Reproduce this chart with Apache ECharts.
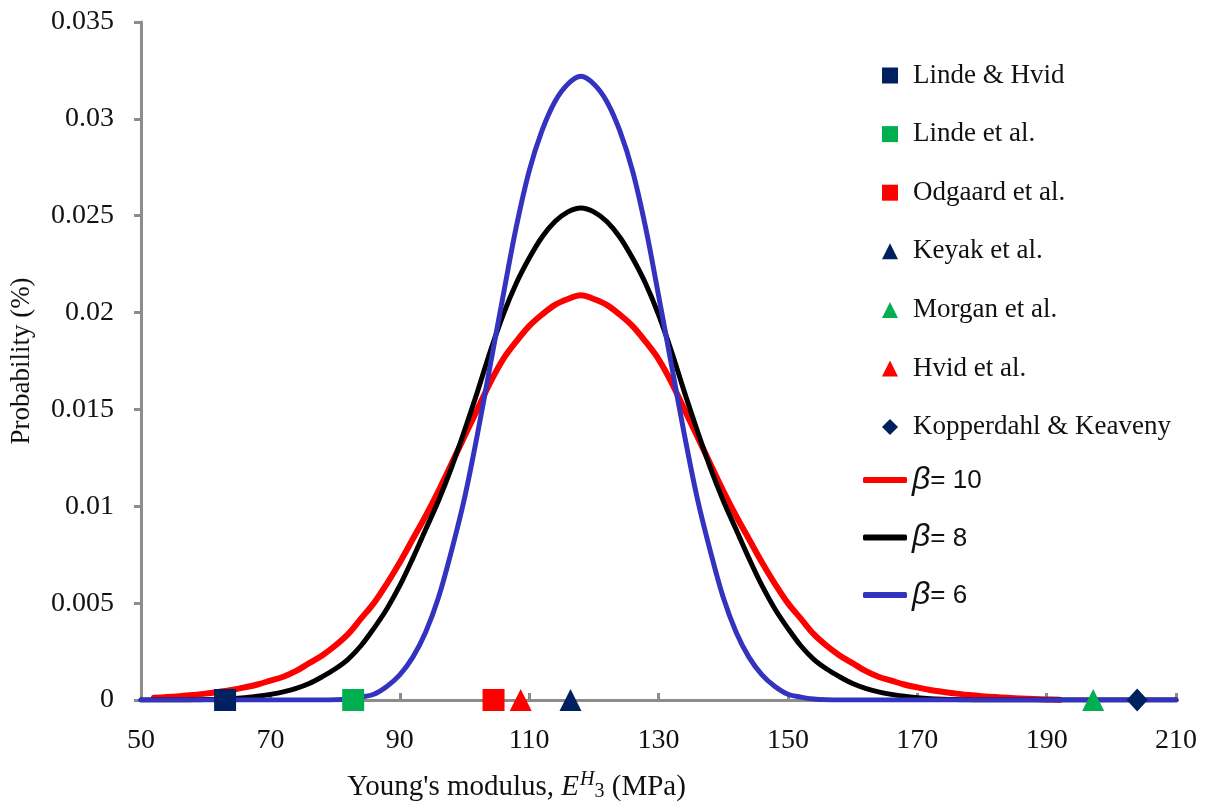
<!DOCTYPE html>
<html>
<head>
<meta charset="utf-8">
<script src="https://cdn.jsdelivr.net/npm/echarts@6/dist/echarts.min.js"></script>
<style>
  html, body { margin: 0; padding: 0; background: #ffffff; }
  #chart { width: 1205px; height: 807px; }
</style>
</head>
<body>
<div id="chart"></div>
<script>
// Young's modulus grid (MPa) shared by the three probability curves
const modulus = [
  50, 52, 54, 56, 58, 60, 62, 64, 66, 68, 70, 72, 74, 76, 78, 80, 82, 84, 86, 88,
  90, 92, 94, 96, 98, 100, 102, 104, 106, 108, 110, 112, 114, 116, 118, 120, 122, 124, 126, 128,
  130, 132, 134, 136, 138, 140, 142, 144, 146, 148, 150, 152, 154, 156, 158, 160, 162, 164, 166, 168,
  170, 172, 174, 176, 178, 180, 182, 184, 186, 188, 190, 192, 194, 196, 198, 200, 202, 204, 206, 208,
  210
];

// beta = 10
const probBeta10 = [
  null, 0.00011, 0.00015, 0.0002, 0.00026, 0.00033, 0.00042, 0.00052, 0.00065, 0.0008,
  0.0010, 0.0012, 0.0015, 0.0019, 0.0023, 0.0028, 0.0034, 0.0042, 0.0050, 0.0060,
  0.0071, 0.0083, 0.0095, 0.0108, 0.0122, 0.0136, 0.0150, 0.0164, 0.0176, 0.0185,
  0.0193, 0.0199, 0.0204, 0.0207, 0.0209, 0.0207, 0.0204, 0.0199, 0.0193, 0.0185,
  0.0176, 0.0164, 0.0150, 0.0136, 0.0122, 0.0108, 0.0095, 0.0083, 0.0071, 0.0060,
  0.0050, 0.0042, 0.0034, 0.0028, 0.0023, 0.0019, 0.0015, 0.0012, 0.0010, 0.0008,
  0.00065, 0.00052, 0.00042, 0.00033, 0.00026, 0.0002, 0.00015, 0.00011, 0.00008, 0.00005,
  0.00003, 0.00001, null, null, null, null, null, null, null, null,
  null
];

// beta = 8
const probBeta8 = [
  0, 0, 0, 0, 0.00001, 0.00002, 0.00004, 0.00007, 0.00012, 0.00019,
  0.00029, 0.00042, 0.0006, 0.00085, 0.0012, 0.0016, 0.0021, 0.0028, 0.0037, 0.0047,
  0.0059, 0.0073, 0.0088, 0.0103, 0.0120, 0.0139, 0.0159, 0.0180, 0.0199, 0.0215,
  0.0228, 0.0239, 0.0247, 0.0252, 0.0254, 0.0252, 0.0247, 0.0239, 0.0228, 0.0215,
  0.0199, 0.0180, 0.0159, 0.0139, 0.0120, 0.0103, 0.0088, 0.0073, 0.0059, 0.0047,
  0.0037, 0.0028, 0.0021, 0.0016, 0.0012, 0.00085, 0.0006, 0.00042, 0.00029, 0.00019,
  0.00012, 0.00007, 0.00004, 0.00002, 0.00001, 0, 0, 0, 0, 0,
  0, 0, 0, 0, 0, 0, 0, 0, 0, 0,
  0
];

// beta = 6
const probBeta6 = [
  0, 0, 0, 0, 0, 0, 0, 0, 0, 0,
  0, 0, 0, 0, 0, 0.00001, 0.00005, 0.00015, 0.0003, 0.0007,
  0.0013, 0.0022, 0.0035, 0.0053, 0.0077, 0.0104, 0.0137, 0.0173, 0.0209, 0.0244,
  0.0273, 0.0294, 0.0309, 0.0318, 0.0322, 0.0318, 0.0309, 0.0294, 0.0273, 0.0244,
  0.0209, 0.0173, 0.0137, 0.0104, 0.0077, 0.0053, 0.0035, 0.0022, 0.0013, 0.0007,
  0.0003, 0.00015, 0.00005, 0.00001, 0, 0, 0, 0, 0, 0,
  0, 0, 0, 0, 0, 0, 0, 0, 0, 0,
  0, 0, 0, 0, 0, 0, 0, 0, 0, 0,
  0
];

// Experimental moduli reported in the literature (MPa)
const studyNames   = ['Linde & Hvid', 'Linde et al.', 'Odgaard et al.', 'Keyak et al.', 'Morgan et al.', 'Hvid et al.', 'Kopperdahl & Keaveny'];
const studyModulus = [63, 82.8, 104.5, 116.4, 197.2, 108.7, 204];
const studySymbols = ['rect', 'rect', 'rect', 'triangle', 'triangle', 'triangle', 'diamond'];
const studyColors  = ['#002060', '#00B050', '#FF0000', '#002060', '#00B050', '#FF0000', '#002060'];

const curveNames  = ['β10', 'β8', 'β6'];
const curveLabels = ['10', '8', '6'];
const curveColors = ['#FF0000', '#000000', '#3333BF'];
const curveWidths = [6, 5, 5];
const curveValues = [probBeta10, probBeta8, probBeta6];

const yTicks = [0, 0.005, 0.01, 0.015, 0.02, 0.025, 0.03, 0.035];

const serif = "'Liberation Serif', 'Times New Roman', serif";
const sans = "'Liberation Sans', Arial, sans-serif";
const axisGrey = '#8C8C8C';

const series = [];
curveValues.forEach((vals, k) => {
  series.push({
    name: curveNames[k],
    type: 'line',
    data: modulus.map((x, i) => [x, vals[i]]),
    showSymbol: false,
    symbol: 'none',
    smooth: 0.35,
    connectNulls: false,
    lineStyle: { color: curveColors[k], width: curveWidths[k], cap: 'round', join: 'round' },
    itemStyle: { color: curveColors[k] },
    z: 2 + k
  });
});
studyNames.forEach((name, k) => {
  series.push({
    name: name,
    type: 'scatter',
    data: [[studyModulus[k], 0]],
    symbol: studySymbols[k],
    symbolSize: studySymbols[k] === 'diamond' ? [21, 23] : 22,
    itemStyle: { color: studyColors[k], opacity: 1 },
    z: 10
  });
});

const chart = echarts.init(document.getElementById('chart'), null, { renderer: 'canvas' });
chart.setOption({
  animation: false,
  backgroundColor: '#ffffff',
  grid: { left: 138, right: 29, top: 22, bottom: 104, containLabel: false },
  xAxis: {
    type: 'value',
    min: 50,
    max: 210,
    interval: 20,
    name: "Young's modulus, {it|E}{sup|H}{sub|3} (MPa)",
    nameLocation: 'middle',
    nameGap: 70,
    nameTextStyle: {
      fontFamily: serif, fontSize: 29, color: '#111',
      padding: [0, 284, 0, 0],
      rich: {
        it: { fontFamily: serif, fontSize: 29, fontStyle: 'italic', color: '#111' },
        sup: { fontFamily: serif, fontSize: 20, fontStyle: 'italic', color: '#111', padding: [0, 0, 14, 1] },
        sub: { fontFamily: serif, fontSize: 20, color: '#111', padding: [10, 0, 0, 0] }
      }
    },
    axisLine: { lineStyle: { color: axisGrey, width: 3 } },
    axisTick: { inside: true, length: 7, lineStyle: { color: axisGrey, width: 3 } },
    axisLabel: { margin: 27, fontFamily: serif, fontSize: 28, color: '#111' },
    splitLine: { show: false }
  },
  yAxis: {
    type: 'value',
    min: 0,
    max: 0.035,
    interval: 0.005,
    name: 'Probability (%)',
    nameLocation: 'middle',
    nameGap: 106,
    nameTextStyle: { fontFamily: serif, fontSize: 27, color: '#111' },
    axisLine: { show: true, lineStyle: { color: axisGrey, width: 3 } },
    axisTick: { show: true, inside: false, length: 7, lineStyle: { color: axisGrey, width: 3 } },
    axisLabel: {
      margin: 27, fontFamily: serif, fontSize: 28, color: '#111',
      formatter: v => String(yTicks.reduce((a, t) => Math.abs(t - v) < Math.abs(a - v) ? t : a, yTicks[0]))
    },
    splitLine: { show: false }
  },
  legend: [
    {
      data: studyNames,
      orient: 'vertical',
      left: 877,
      top: 57,
      itemWidth: 16,
      itemHeight: 16,
      itemGap: 31.6,
      selectedMode: false,
      textStyle: { fontFamily: serif, fontSize: 27, color: '#111', lineHeight: 24, padding: [0, 0, 0, 10] }
    },
    {
      data: curveNames.map(n => ({ name: n, icon: 'roundRect' })),
      orient: 'vertical',
      left: 858,
      top: 459,
      itemWidth: 44,
      itemHeight: 6,
      itemGap: 25.5,
      selectedMode: false,
      formatter: name => '{b|β}{t|= ' + curveLabels[curveNames.indexOf(name)] + '}',
      textStyle: {
        color: '#111', lineHeight: 32,
        rich: {
          b: { fontFamily: sans, fontSize: 32, fontStyle: 'italic', color: '#111', lineHeight: 32 },
          t: { fontFamily: sans, fontSize: 26, color: '#111', lineHeight: 32, padding: [2, 0, 0, 0] }
        }
      }
    }
  ],
  series: series
});
</script>
</body>
</html>
